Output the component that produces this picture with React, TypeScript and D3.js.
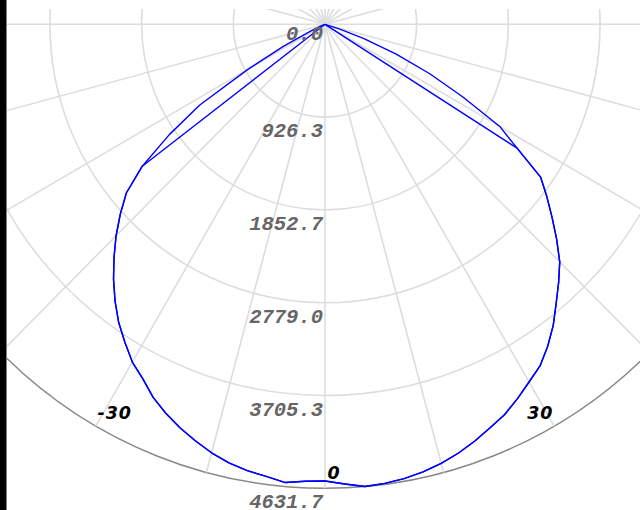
import React from 'react';
import * as d3 from 'd3';

const svgWidth = 640;
const svgHeight = 510;
const center = { x: 325, y: 24.3 };
const outerRadius = 464;
const xStretch = 0.988; // the reference is a touch narrower than tall

// luminous intensity (cd) per gamma angle, two planes
const gammaAngles = [
  -90, -85, -80, -75, -72.5, -70, -67.5, -65, -62.5, -60, -57.5, -55, -52.5, -50, -47.5, -45,
  -42.5, -40, -37.5, -35, -32.5, -30, -27.5, -25, -22.5, -20, -17.5, -15, -12.5, -10, -7.5, -5,
  -2.5, 0, 2.5, 5, 7.5, 10, 12.5, 15, 17.5, 20, 22.5, 25, 27.5, 30, 32.5, 35, 37.5, 40, 42.5,
  45, 47.5, 50, 52.5, 55, 57.5, 60, 62.5, 65, 67.5, 70, 72.5, 75, 80, 85, 90,
];
const planeA = [
  0, 0, 0, 0, 0, 0, 30, 150, 470, 900, 1500, 1920, 2327, 2620, 2805, 2985,
  3155, 3324, 3484, 3634, 3763, 3893, 3988, 4109, 4203, 4285, 4359, 4428, 4484, 4524, 4552, 4592,
  4565, 4559, 4593, 4632, 4622, 4605, 4577, 4537, 4487, 4427, 4359, 4297, 4212, 4123, 4043, 3923, 3788, 3634, 3494,
  3354, 3174, 2994, 2825, 2659, 2301, 2039, 1567, 1168, 779, 419, 150, 0, 0, 0, 0,
];
const planeB = [
  0, 0, 0, 0, 0, 0, 0, 0, 0, 0, 0, 0, 2327, 2620, 2805, 2985,
  3155, 3324, 3484, 3634, 3763, 3893, 3988, 4109, 4203, 4285, 4359, 4428, 4484, 4524, 4552, 4592,
  4565, 4559, 4593, 4632, 4622, 4605, 4577, 4537, 4487, 4427, 4359, 4297, 4212, 4123, 4043, 3923, 3788, 3634, 3494,
  3354, 3174, 2994, 2825, 2659, 2301, 0, 0, 0, 0, 0, 0, 0, 0, 0, 0,
];

const maxValue = 4631.7;
const ringLabels = ['0.0', '926.3', '1852.7', '2779.0', '3705.3', '4631.7'];
const angleLabels = ['-30', '0', '30'];
const angleLabelAngles = [-30, 0, 30];
const angleLabelNudge = [11, 9, -6];
const spokeAngles = d3.range(0, 360, 15);

const rScale = d3.scaleLinear().domain([0, maxValue]).range([0, outerRadius]);
const rad = (deg: number) => (deg * Math.PI) / 180;
const px = (a: number, r: number) => center.x + r * Math.sin(rad(a)) * xStretch;
const py = (a: number, r: number) => center.y + r * Math.cos(rad(a));

const line = d3
  .line<[number, number]>()
  .x(d => px(d[0], rScale(d[1])))
  .y(d => py(d[0], rScale(d[1])));

const App = () => {
  const ringValues = ringLabels.map((_, i) => (maxValue * i) / (ringLabels.length - 1));
  const series = [planeA, planeB];

  return (
    <svg
      width={svgWidth}
      height={svgHeight}
      style={{ position: 'absolute', left: 0, top: 0, background: '#fff' }}
    >
      <defs>
        <clipPath id="plotClip">
          <rect x={7} y={9} width={svgWidth - 7} height={svgHeight - 9} />
        </clipPath>
      </defs>
      <rect x={0} y={0} width={6.5} height={svgHeight} fill="#000" />
      <g clipPath="url(#plotClip)">
        {ringValues.slice(1).map((v, i) => (
          <ellipse
            key={'ring' + i}
            cx={center.x}
            cy={center.y}
            rx={rScale(v) * xStretch}
            ry={rScale(v)}
            fill="none"
            stroke={i === ringValues.length - 2 ? '#888' : '#ddd'}
            strokeWidth={i === ringValues.length - 2 ? 1.5 : 1.6}
          />
        ))}
        {spokeAngles.map(a => (
          <line
            key={'spoke' + a}
            x1={center.x}
            y1={center.y}
            x2={px(a, outerRadius)}
            y2={py(a, outerRadius)}
            stroke="#ddd"
            strokeWidth={1.6}
          />
        ))}
        {series.map((vals, si) => (
          <path
            key={'s' + si}
            d={line(gammaAngles.map((a, i) => [a, vals[i]] as [number, number])) || ''}
            fill="none"
            stroke="#0000ff"
            strokeWidth={1.4}
            strokeLinejoin="round"
          />
        ))}
        {ringLabels.map((t, i) => (
          <text
            key={'rl' + t}
            x={center.x - 2}
            y={center.y + rScale(ringValues[i]) + (i === 0 ? 16 : 20)}
            textAnchor="end"
            fontFamily="'Liberation Mono', monospace"
            fontWeight="bold"
            fontStyle="italic"
            fontSize={20.5}
            fill="#666"
          >
            {t}
          </text>
        ))}
        {angleLabels.map((t, i) => (
          <text
            key={'al' + t}
            x={px(angleLabelAngles[i], 448) + angleLabelNudge[i]}
            y={py(angleLabelAngles[i], 448)}
            dy="0.38em"
            textAnchor="middle"
            fontFamily="'DejaVu Sans', sans-serif"
            fontWeight="bold"
            fontStyle="italic"
            fontSize={17.5}
            letterSpacing={1}
            fill="#000"
          >
            {t}
          </text>
        ))}
      </g>
    </svg>
  );
};

export default App;
